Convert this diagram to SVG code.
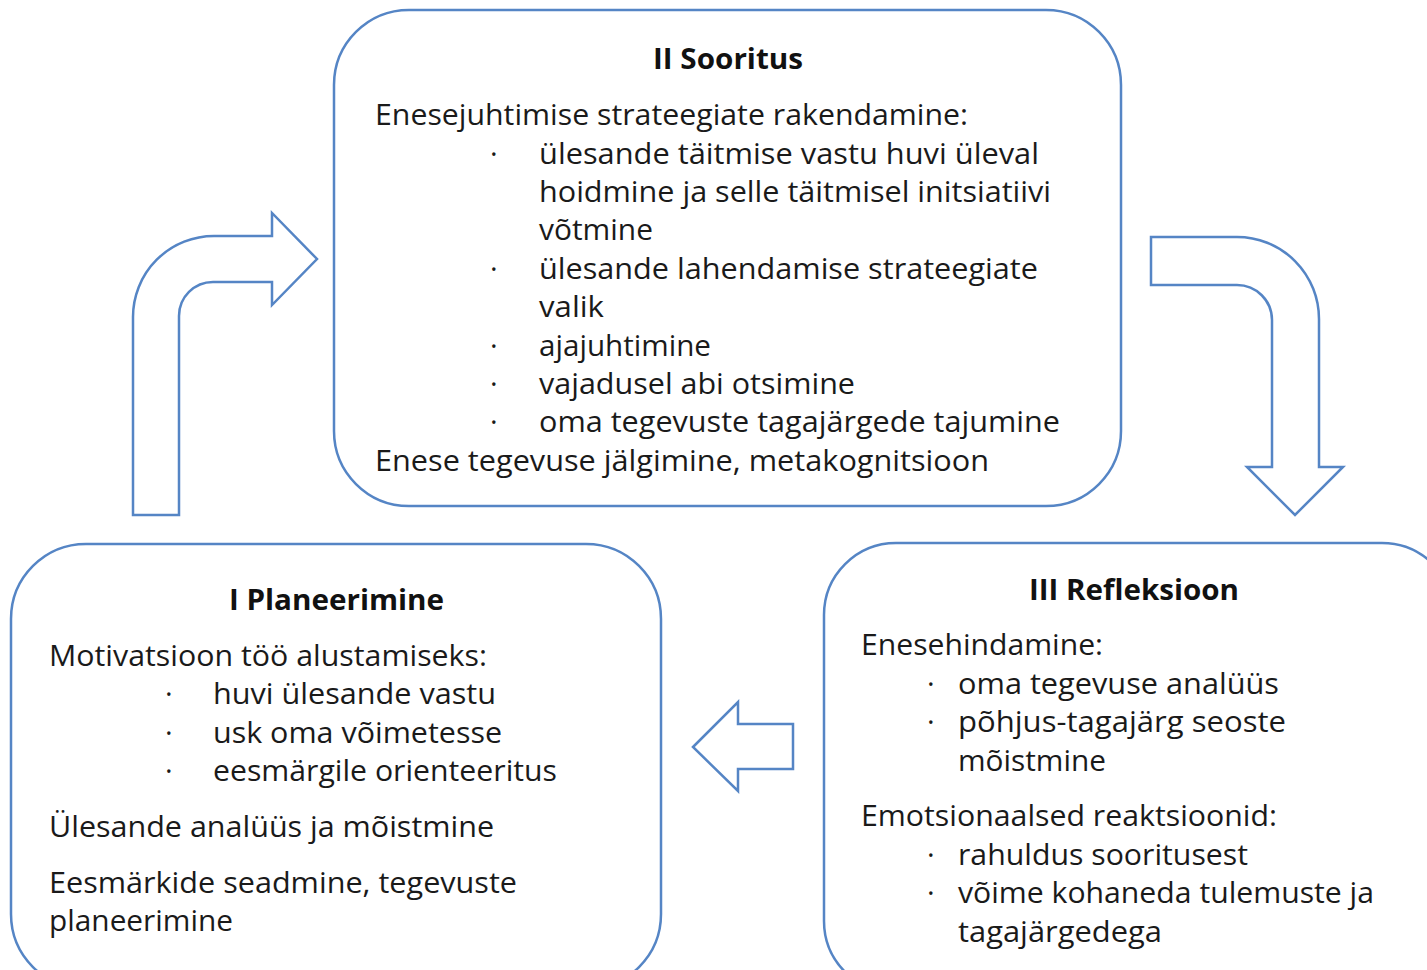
<svg xmlns="http://www.w3.org/2000/svg" width="1427" height="970" viewBox="0 0 1427 970">
<style>
.box{fill:#ffffff;stroke:#5585c5;stroke-width:2.5}
.arr{fill:#ffffff;stroke:#5585c5;stroke-width:2.5;stroke-linejoin:miter}
text{font-family:"Open Sans","Noto Sans","Liberation Sans",sans-serif;font-size:29px;fill:#1a1a1a}
.t{font-weight:700;font-size:28px;fill:#111111}
</style>
<rect width="1427" height="970" fill="#ffffff"/>
<g id="connectors">
<path class="arr" d="M133,515 L133,317 A81,81 0 0 1 214,236 L272,236 L272,213 L317,259 L272,305 L272,282 L213,282 A34,34 0 0 0 179,316 L179,515 Z"/>
<path class="arr" d="M1151,237 L1237,237 A82,82 0 0 1 1319,319 L1319,467 L1343,467 L1295,515 L1247,467 L1272,467 L1272,320 A35,35 0 0 0 1237,285 L1151,285 Z"/>
<path class="arr" d="M693,747 L738,702 L738,724 L793,724 L793,769 L738,769 L738,791 Z"/>
</g>
<g id="node-sooritus">
<rect class="box" x="334" y="10" width="787" height="496" rx="75" ry="75"/>
<text class="t" x="653" y="69" textLength="150" lengthAdjust="spacingAndGlyphs">II Sooritus</text>
<text x="375" y="125" textLength="593" lengthAdjust="spacingAndGlyphs">Enesejuhtimise strateegiate rakendamine:</text>
<text x="490" y="164">·</text>
<text x="539" y="164" textLength="500" lengthAdjust="spacingAndGlyphs">ülesande täitmise vastu huvi üleval</text>
<text x="539" y="202" textLength="512" lengthAdjust="spacingAndGlyphs">hoidmine ja selle täitmisel initsiatiivi</text>
<text x="539" y="240" textLength="114" lengthAdjust="spacingAndGlyphs">võtmine</text>
<text x="490" y="279">·</text>
<text x="539" y="279" textLength="499" lengthAdjust="spacingAndGlyphs">ülesande lahendamise strateegiate</text>
<text x="539" y="317" textLength="65" lengthAdjust="spacingAndGlyphs">valik</text>
<text x="490" y="356">·</text>
<text x="539" y="356" textLength="172" lengthAdjust="spacingAndGlyphs">ajajuhtimine</text>
<text x="490" y="394">·</text>
<text x="539" y="394" textLength="316" lengthAdjust="spacingAndGlyphs">vajadusel abi otsimine</text>
<text x="490" y="432">·</text>
<text x="539" y="432" textLength="521" lengthAdjust="spacingAndGlyphs">oma tegevuste tagajärgede tajumine</text>
<text x="375" y="471" textLength="614" lengthAdjust="spacingAndGlyphs">Enese tegevuse jälgimine, metakognitsioon</text>
</g>
<g id="node-planeerimine">
<rect class="box" x="11" y="544" width="650" height="445" rx="75" ry="75"/>
<text class="t" x="229" y="610" textLength="215" lengthAdjust="spacingAndGlyphs">I Planeerimine</text>
<text x="49" y="666" textLength="438" lengthAdjust="spacingAndGlyphs">Motivatsioon töö alustamiseks:</text>
<text x="165" y="704">·</text>
<text x="213" y="704" textLength="283" lengthAdjust="spacingAndGlyphs">huvi ülesande vastu</text>
<text x="165" y="743">·</text>
<text x="213" y="743" textLength="289" lengthAdjust="spacingAndGlyphs">usk oma võimetesse</text>
<text x="165" y="781">·</text>
<text x="213" y="781" textLength="344" lengthAdjust="spacingAndGlyphs">eesmärgile orienteeritus</text>
<text x="49" y="837" textLength="445" lengthAdjust="spacingAndGlyphs">Ülesande analüüs ja mõistmine</text>
<text x="49" y="893" textLength="468" lengthAdjust="spacingAndGlyphs">Eesmärkide seadmine, tegevuste</text>
<text x="49" y="931" textLength="184" lengthAdjust="spacingAndGlyphs">planeerimine</text>
</g>
<g id="node-refleksioon">
<rect class="box" x="824" y="543" width="630" height="450" rx="72" ry="72"/>
<text class="t" x="1029" y="600" textLength="210" lengthAdjust="spacingAndGlyphs">III Refleksioon</text>
<text x="861" y="655" textLength="242" lengthAdjust="spacingAndGlyphs">Enesehindamine:</text>
<text x="927" y="694">·</text>
<text x="958" y="694" textLength="321" lengthAdjust="spacingAndGlyphs">oma tegevuse analüüs</text>
<text x="927" y="732">·</text>
<text x="958" y="732" textLength="328" lengthAdjust="spacingAndGlyphs">põhjus-tagajärg seoste</text>
<text x="958" y="771" textLength="148" lengthAdjust="spacingAndGlyphs">mõistmine</text>
<text x="861" y="826" textLength="416" lengthAdjust="spacingAndGlyphs">Emotsionaalsed reaktsioonid:</text>
<text x="927" y="865">·</text>
<text x="958" y="865" textLength="290" lengthAdjust="spacingAndGlyphs">rahuldus sooritusest</text>
<text x="927" y="903">·</text>
<text x="958" y="903" textLength="416" lengthAdjust="spacingAndGlyphs">võime kohaneda tulemuste ja</text>
<text x="958" y="942" textLength="204" lengthAdjust="spacingAndGlyphs">tagajärgedega</text>
</g>
</svg>
